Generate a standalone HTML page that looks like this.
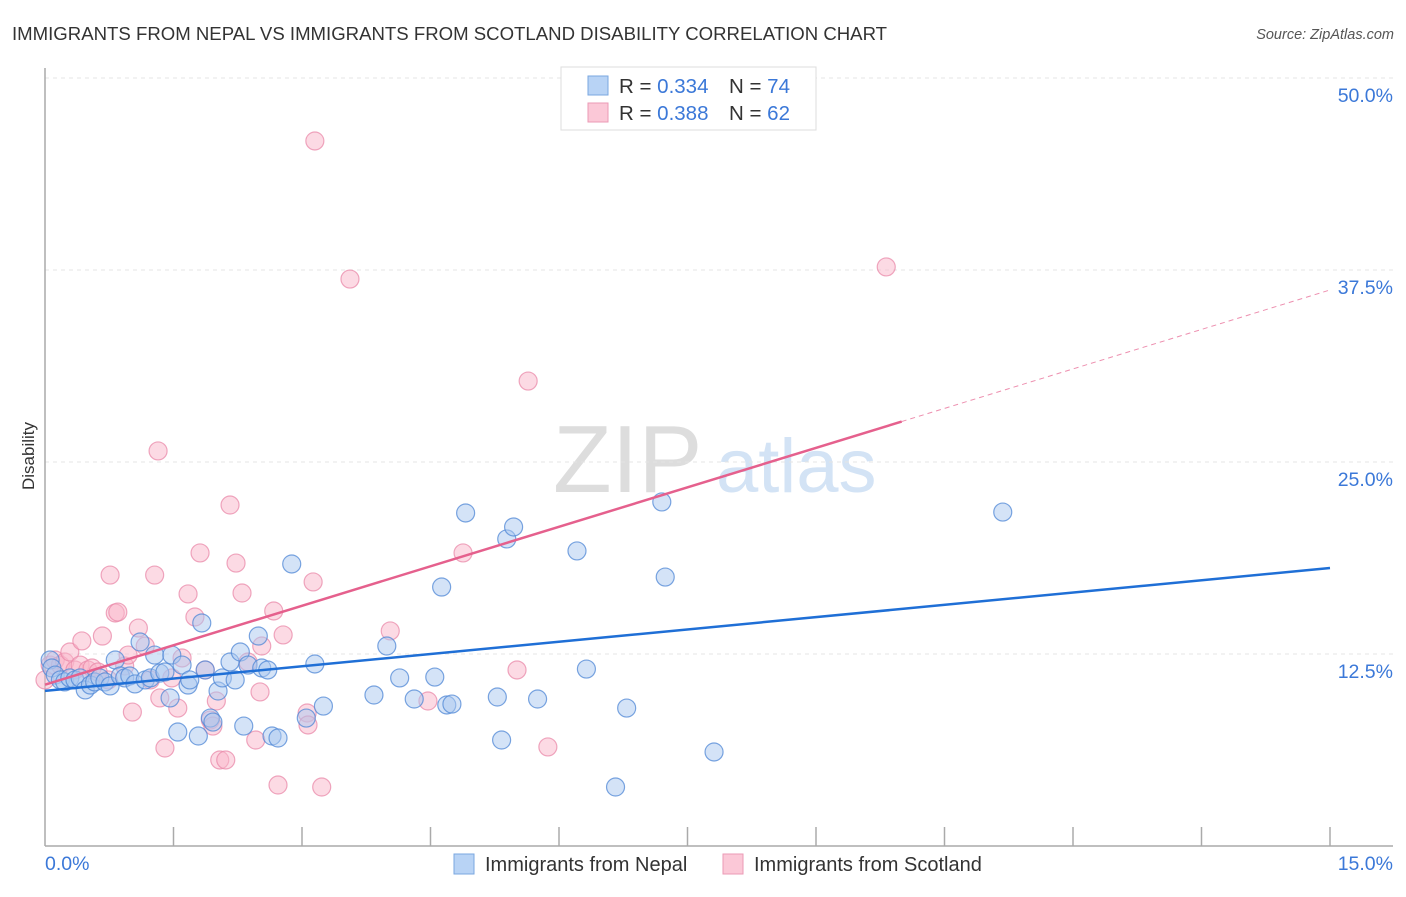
<!DOCTYPE html>
<html><head><meta charset="utf-8"><style>
body{margin:0;background:#fff;width:1406px;height:892px;overflow:hidden;font-family:"Liberation Sans",sans-serif}
svg text{font-family:"Liberation Sans",sans-serif}
</style></head><body>
<svg id="c" width="1406" height="892" xmlns="http://www.w3.org/2000/svg">
<text x="12" y="40" font-size="18.6" fill="#333">IMMIGRANTS FROM NEPAL VS IMMIGRANTS FROM SCOTLAND DISABILITY CORRELATION CHART</text>
<text x="1394" y="39" font-size="14.5" fill="#555" font-style="italic" text-anchor="end">Source: ZipAtlas.com</text>
<text x="34" y="456" font-size="17" fill="#333" text-anchor="middle" transform="rotate(-90 34 456)">Disability</text>
<g>
<text x="553" y="492" font-size="96" fill="#ddd" font-family="Liberation Serif">ZIP</text>
<text x="716" y="492" font-size="76" fill="#d3e3f5">atlas</text>
</g>
<g id="grid"></g><g id="axes"></g><g id="pts"></g><g id="lines"></g>
<g>
<rect x="561" y="67" width="255" height="63" fill="#fff" stroke="#ddd"/>
<rect x="588" y="76" width="20" height="19" fill="#b8d3f5" stroke="#7aa7e0"/>
<rect x="588" y="103" width="20" height="19" fill="#fbc8d7" stroke="#eb9ab5"/>
<text x="619" y="93" font-size="20.5" fill="#333">R = <tspan fill="#3b78d8">0.334</tspan></text>
<text x="729" y="93" font-size="20.5" fill="#333">N = <tspan fill="#3b78d8">74</tspan></text>
<text x="619" y="120" font-size="20.5" fill="#333">R = <tspan fill="#3b78d8">0.388</tspan></text>
<text x="729" y="120" font-size="20.5" fill="#333">N = <tspan fill="#3b78d8">62</tspan></text>
</g>
<g>
<rect x="454" y="854" width="20" height="20" fill="#b8d3f5" stroke="#7aa7e0"/>
<text x="485" y="871" font-size="20" fill="#333">Immigrants from Nepal</text>
<rect x="723" y="854" width="20" height="20" fill="#fbc8d7" stroke="#eb9ab5"/>
<text x="754" y="871" font-size="20" fill="#333">Immigrants from Scotland</text>
</g>
</svg>
<script>
const yTicks=[12.5,25,37.5,50];
const yTickLabels=["12.5%","25.0%","37.5%","50.0%"];
const xTickCount=10;
const xMinLabel="0.0%", xMaxLabel="15.0%";
const nepalX=[0.06,0.08,0.12,0.18,0.23,0.29,0.35,0.41,0.47,0.53,0.58,0.64,0.70,0.76,0.82,0.88,0.93,0.99,1.05,1.11,1.17,1.23,1.28,1.34,1.40,1.46,1.48,1.55,1.60,1.67,1.69,1.79,1.83,1.87,1.93,1.96,2.02,2.07,2.16,2.22,2.28,2.32,2.37,2.49,2.53,2.60,2.65,2.72,2.88,3.05,3.15,3.25,3.84,3.99,4.14,4.31,4.55,4.63,4.69,4.75,4.91,5.28,5.33,5.39,5.47,5.75,6.21,6.32,6.66,6.79,7.20,7.24,7.81,11.18];
const nepalY=[12.11,11.59,11.13,10.81,10.68,10.94,10.81,10.94,10.16,10.48,10.68,10.94,10.68,10.42,12.11,11.07,10.94,11.07,10.55,13.28,10.81,10.94,12.43,11.26,11.33,9.64,12.43,7.42,11.78,10.48,10.81,7.16,14.52,11.46,8.33,8.07,10.09,10.94,11.98,10.81,12.63,7.81,11.78,13.67,11.59,11.46,7.16,7.03,18.36,8.33,11.85,9.11,9.83,13.02,10.94,9.57,11.00,16.86,9.18,9.24,21.68,9.70,6.90,19.99,20.77,9.57,19.21,11.52,3.84,8.98,22.40,17.51,6.12,21.74];
const scotX=[0.06,0.12,0.18,0.23,0.29,0.35,0.41,0.43,0.50,0.55,0.62,0.67,0.74,0.76,0.82,0.85,0.93,0.97,1.02,1.09,1.17,1.23,1.28,1.32,1.34,1.40,1.48,1.55,1.60,1.67,1.75,1.81,1.87,1.93,1.96,2.00,2.04,2.11,2.16,2.23,2.30,2.37,2.46,2.51,2.53,2.67,2.72,2.78,3.06,3.07,3.13,3.15,3.23,3.56,4.03,4.47,4.88,5.51,5.64,5.87,9.82,0.00];
const scotY=[11.78,12.11,11.78,11.98,12.63,11.46,11.78,13.35,11.46,11.59,11.33,13.67,10.81,17.64,15.17,15.23,11.72,12.43,8.72,14.19,13.02,10.81,17.64,25.72,9.64,6.38,10.94,8.98,12.24,16.41,14.91,19.08,11.46,8.20,7.81,9.44,5.60,5.60,22.20,18.42,16.47,11.98,6.90,10.03,13.02,15.30,3.97,13.74,8.66,7.88,17.19,45.90,3.84,36.91,14.00,9.44,19.08,11.46,30.27,6.45,37.70,10.81];
const nepalTrend=[10.1,18.1];
const scotTrend=[10.5,36.2];
const scotSolidEnd=10.0;
const X0=45,X1=1330,Y0=846,YPX=15.36;
const sx=v=>X0+(X1-X0)*v/15, sy=v=>Y0-v*YPX;
const NS="http://www.w3.org/2000/svg";
function mk(t,a,p){const e=document.createElementNS(NS,t);for(const k in a)e.setAttribute(k,a[k]);p.appendChild(e);return e;}
const grid=document.getElementById('grid'),axes=document.getElementById('axes'),pts=document.getElementById('pts'),lines=document.getElementById('lines');
yTicks.forEach((v,i)=>{
 const l=mk('line',{x1:X0,x2:1393,y1:sy(v),y2:sy(v),stroke:'#e4e4e4','stroke-dasharray':'4 4'},grid);
 
 
 const t=mk('text',{x:1393,y:sy(v)+24,'font-size':19.5,fill:'#3b78d8','text-anchor':'end'},grid);
 t.textContent=yTickLabels[i];
 
 
});
const ay=mk('line',{x1:X0,x2:X0,y1:68,y2:Y0,stroke:'#aaa','stroke-width':1.5},axes);


const ax=mk('line',{x1:X0,x2:1393,y1:Y0,y2:Y0,stroke:'#aaa','stroke-width':1.5},axes);


for(let i=1;i<=xTickCount;i++){
 const x=X0+(X1-X0)*i/xTickCount;
 const t=mk('line',{x1:x,x2:x,y1:Y0-19,y2:Y0,stroke:'#aaa','stroke-width':1.5},axes);
 
 
}
const xl=mk('text',{x:45,y:870,'font-size':19.5,fill:'#3b78d8'},axes);xl.textContent=xMinLabel;


const xr=mk('text',{x:1393,y:870,'font-size':19.5,fill:'#3b78d8','text-anchor':'end'},axes);xr.textContent=xMaxLabel;


function dots(X,Y,fill,stroke,name){X.forEach((x,i)=>{
 const c=mk('circle',{cx:sx(x),cy:sy(Y[i]),r:9,fill:fill,'fill-opacity':0.5,stroke:stroke,'stroke-opacity':0.75,'stroke-width':1.2},pts);
 
 
});}
dots(scotX,scotY,'#f9b6ca','#e98aaa','scotland-point');
dots(nepalX,nepalY,'#a9c8f0','#4f87d6','nepal-point');
const tl=(a,b,x)=>a+(b-a)*x/15;
const bl=mk('line',{x1:sx(0),y1:sy(nepalTrend[0]),x2:sx(15),y2:sy(nepalTrend[1]),stroke:'#1f6fd6','stroke-width':2.5},lines);


const pl=mk('line',{x1:sx(0),y1:sy(scotTrend[0]),x2:sx(scotSolidEnd),y2:sy(tl(scotTrend[0],scotTrend[1],scotSolidEnd)),stroke:'#e5608d','stroke-width':2.5},lines);


const pd=mk('line',{x1:sx(scotSolidEnd),y1:sy(tl(scotTrend[0],scotTrend[1],scotSolidEnd)),x2:sx(15),y2:sy(scotTrend[1]),stroke:'#e5608d','stroke-width':1,'stroke-dasharray':'5 4','stroke-opacity':0.7},lines);


</script>
</body></html>
